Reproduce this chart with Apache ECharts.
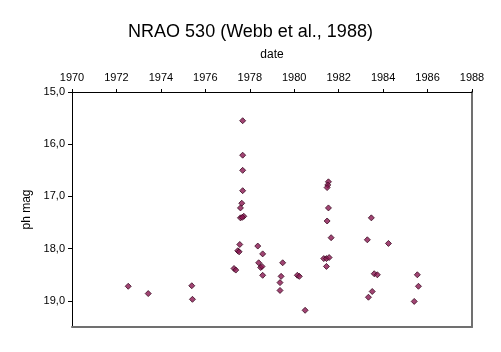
<!DOCTYPE html>
<html>
<head>
<meta charset="utf-8">
<script src="https://cdn.jsdelivr.net/npm/echarts@6/dist/echarts.min.js"></script>
<style>html,body{margin:0;padding:0;background:#fff;}#c{width:501px;height:352px;}</style>
</head>
<body>
<div id="c"></div>
<script>
var titleText = 'NRAO 530 (Webb et al., 1988)';
var xName = 'date';
var yName = 'ph mag';
var xTicks = [1970, 1972, 1974, 1976, 1978, 1980, 1982, 1984, 1986, 1988];
var yTicks = [15, 16, 17, 18, 19];
var years = [1972.53, 1973.43, 1975.39, 1975.42,
  1977.68, 1977.68, 1977.68, 1977.68, 1977.64, 1977.58, 1977.58, 1977.73, 1977.66,
  1977.55, 1977.46, 1977.52, 1977.29, 1977.37,
  1978.36, 1978.58, 1978.40, 1978.49, 1978.55, 1978.58,
  1979.48, 1979.41, 1979.36, 1979.36, 1980.14, 1980.23, 1980.49,
  1981.54, 1981.51, 1981.48, 1981.54, 1981.48, 1981.66, 1981.33, 1981.45, 1981.57, 1981.45,
  1983.47, 1983.29, 1984.24, 1983.60, 1983.74, 1983.51, 1983.34,
  1985.54, 1985.59, 1985.40];
var mags = [18.72, 18.86, 18.71, 18.97,
  15.55, 16.21, 16.50, 16.89, 17.13, 17.22, 17.41, 17.38, 17.40,
  17.92, 18.04, 18.06, 18.38, 18.41,
  17.95, 18.10, 18.27, 18.36, 18.34, 18.51,
  18.27, 18.53, 18.65, 18.80, 18.51, 18.53, 19.18,
  16.72, 16.78, 16.83, 17.22, 17.47, 17.79, 18.19, 18.19, 18.17, 18.34,
  17.41, 17.83, 17.90, 18.48, 18.50, 18.82, 18.93,
  18.50, 18.72, 19.01];

var points = years.map(function (y, i) { return [y, mags[i]]; });
var font = 'Liberation Sans, Arial, sans-serif';
var chart = echarts.init(document.getElementById('c'), null, {renderer: 'canvas'});
chart.setOption({
  animation: false,
  backgroundColor: '#fff',
  title: {
    text: titleText, left: 'center', top: 18,
    textStyle: {fontFamily: font, fontSize: 18, fontWeight: 'normal', color: '#000'}
  },
  grid: {left: 72, top: 92, right: 29, bottom: 25, containLabel: false},
  xAxis: [{
    type: 'value', position: 'top', min: xTicks[0], max: xTicks[xTicks.length - 1], interval: 2,
    name: xName, nameLocation: 'middle', nameGap: 31,
    nameTextStyle: {fontFamily: font, fontSize: 12, color: '#000'},
    axisLine: {show: true, onZero: false, lineStyle: {color: '#000', width: 1}},
    axisTick: {show: true, inside: false, length: 3, lineStyle: {color: '#000'}},
    axisLabel: {fontFamily: font, fontSize: 11, color: '#000', margin: 9,
      formatter: function (v) { return String(Math.round(v)); }},
    splitLine: {show: false}
  }, {
    type: 'value', position: 'bottom', min: xTicks[0], max: xTicks[xTicks.length - 1],
    axisLine: {show: true, onZero: false, lineStyle: {color: '#707070', width: 2}},
    axisTick: {show: false}, axisLabel: {show: false}, splitLine: {show: false}
  }],
  yAxis: [{
    type: 'value', inverse: true, min: 15, max: 19.5, interval: 1,
    name: yName, nameLocation: 'middle', nameGap: 38, nameRotate: 90,
    nameTextStyle: {fontFamily: font, fontSize: 12, color: '#000'},
    axisLine: {show: true, onZero: false, lineStyle: {color: '#000', width: 1}},
    axisTick: {show: true, length: 4, customValues: yTicks, lineStyle: {color: '#000'}},
    axisLabel: {fontFamily: font, fontSize: 11, color: '#000', margin: 7, customValues: yTicks,
      formatter: function (v) { return v.toFixed(1).replace('.', ','); }},
    splitLine: {show: false}
  }, {
    type: 'value', inverse: true, min: 15, max: 19.5, position: 'right',
    axisLine: {show: true, onZero: false, lineStyle: {color: '#707070', width: 2}},
    axisTick: {show: false}, axisLabel: {show: false}, splitLine: {show: false}
  }],
  series: [{
    type: 'scatter', xAxisIndex: 0, yAxisIndex: 0,
    data: points, symbol: 'diamond', symbolSize: 6,
    itemStyle: {color: '#8a1550', borderColor: '#3a0a20', borderWidth: 1}
  }]
});
</script>
</body>
</html>
